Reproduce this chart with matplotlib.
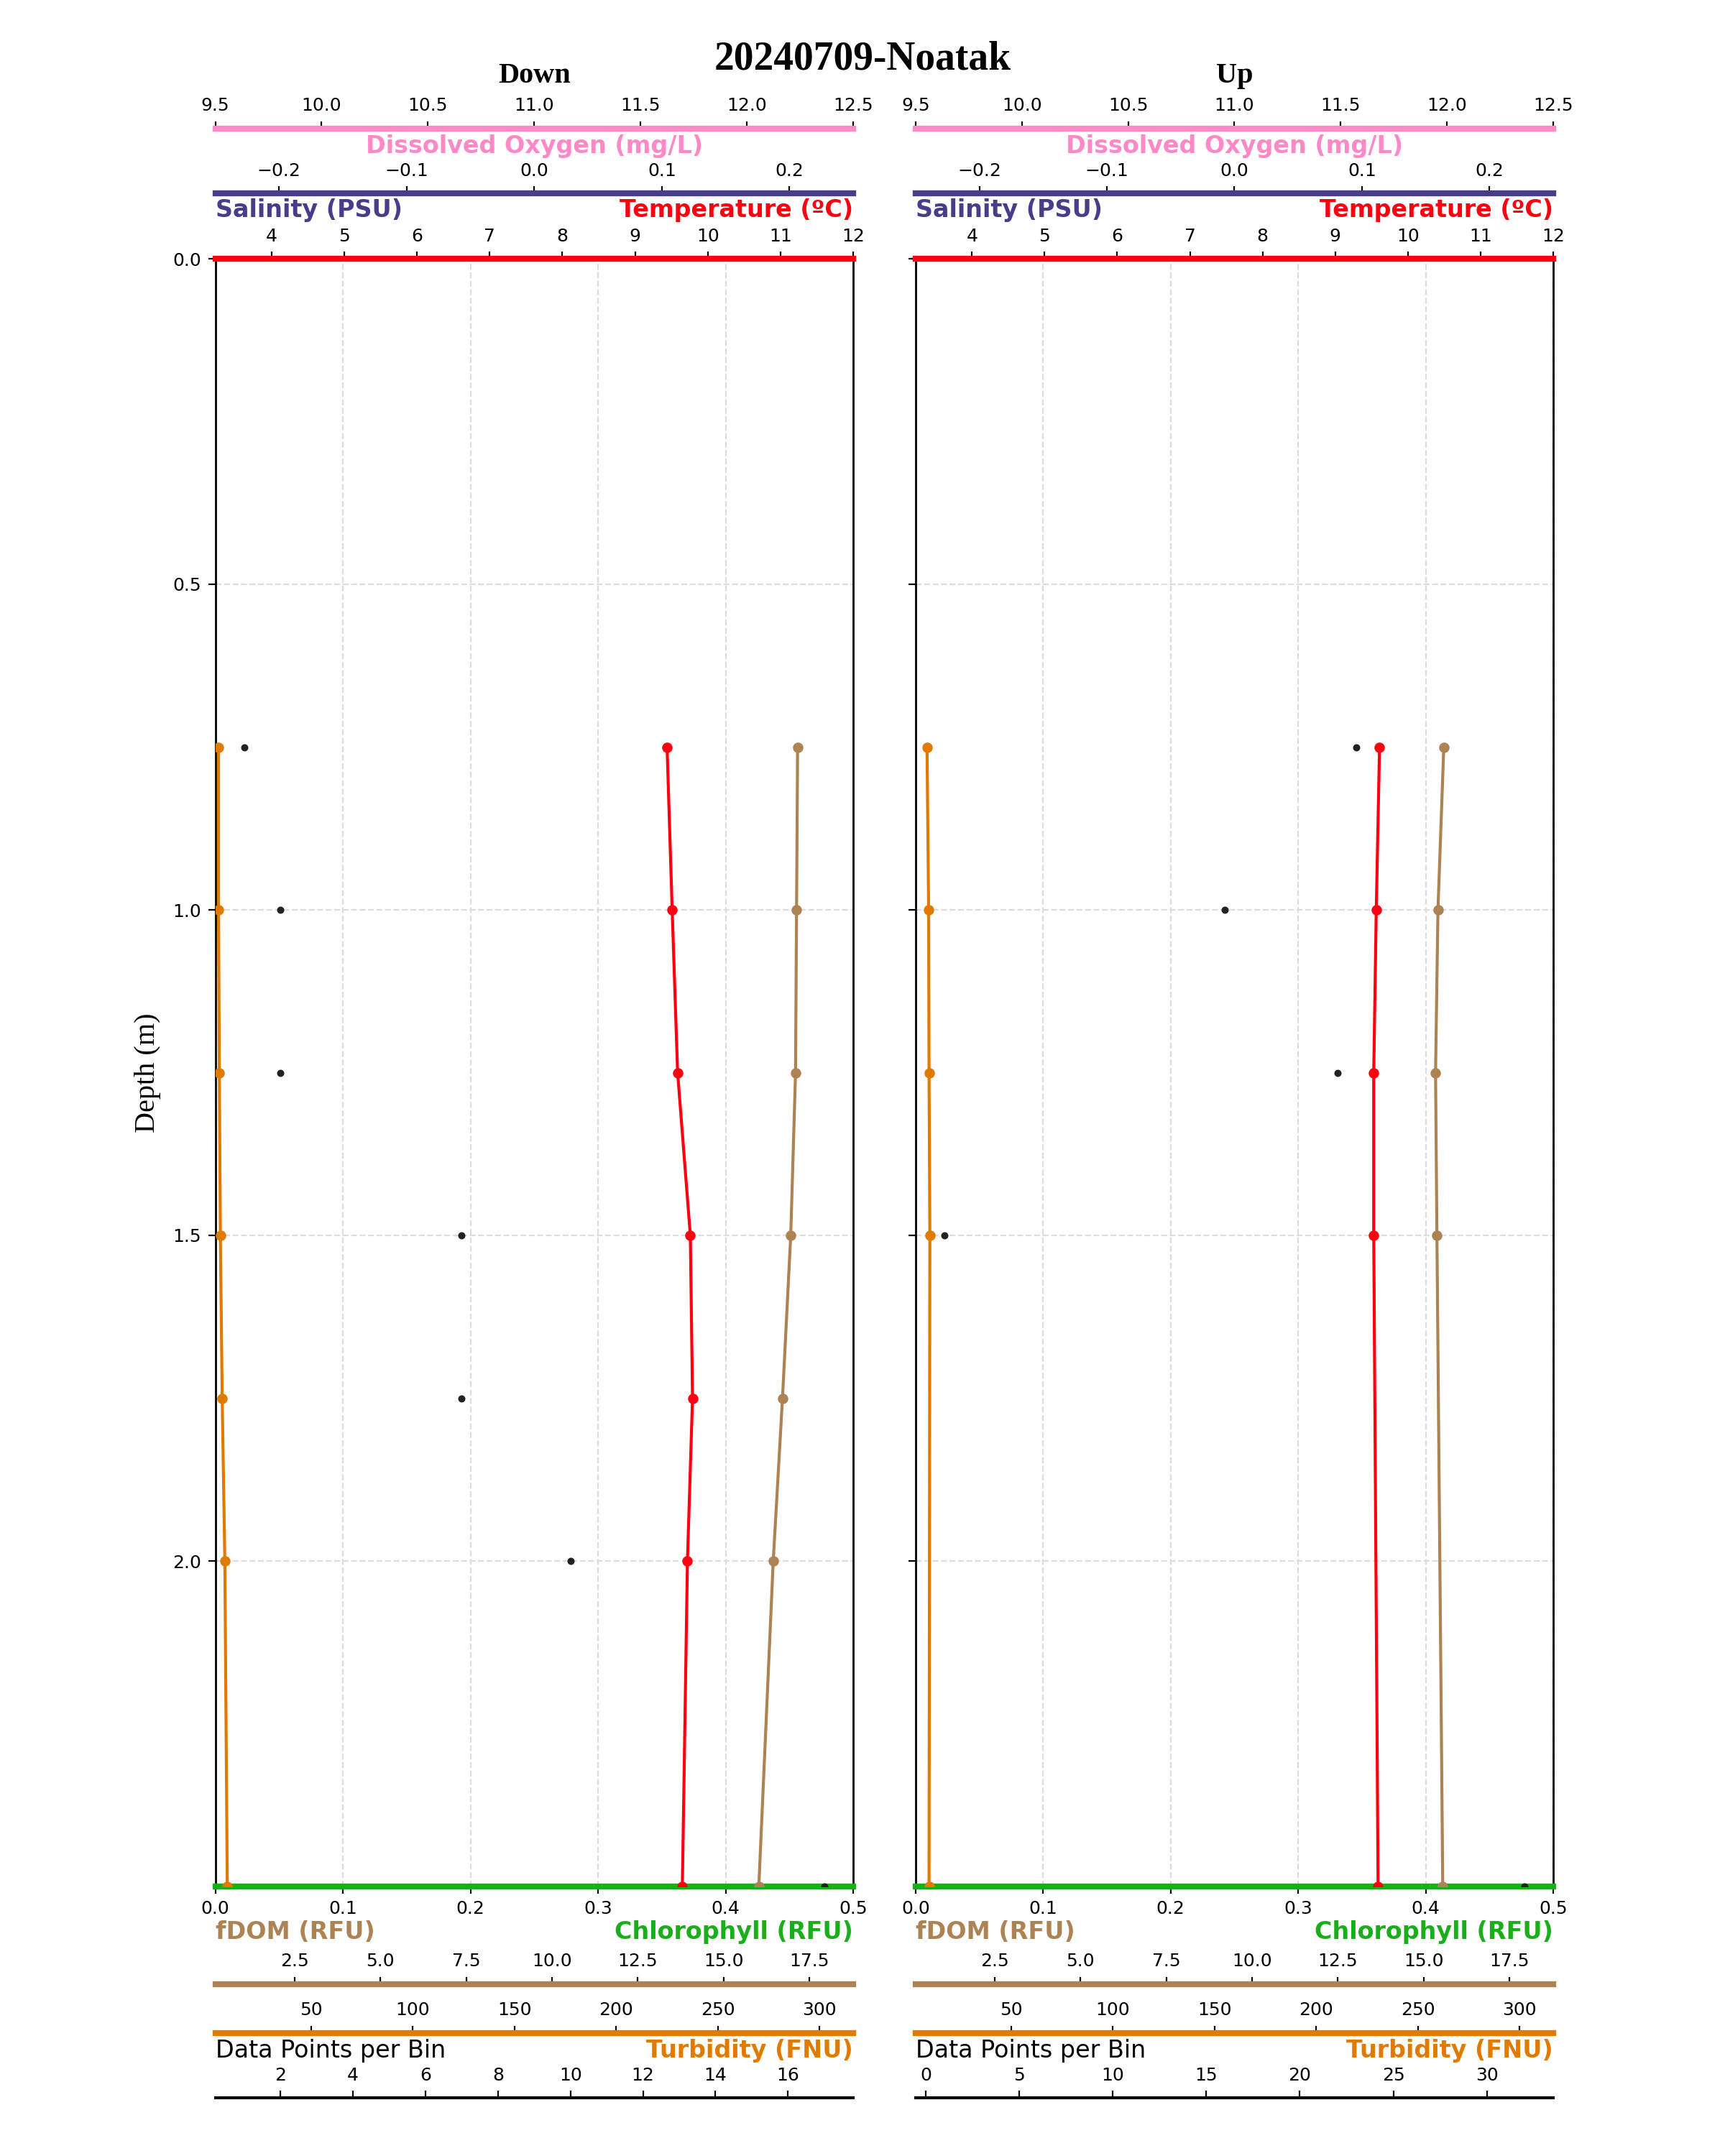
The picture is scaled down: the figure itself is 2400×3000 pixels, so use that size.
"""Down/Up cast profiles for one station, each on a stack of twinned x axes."""
import matplotlib
matplotlib.use("Agg")
import matplotlib.pyplot as plt

TITLE = "20240709-Noatak"
PANELS = ["Down", "Up"]

# down cast (bin depth in m)
down_depth = [0.75, 1.0, 1.25, 1.5, 1.75, 2.0, 2.5]
down_temp = [9.44, 9.51, 9.585, 9.76, 9.79, 9.72, 9.65]
down_fdom = [17.16, 17.13, 17.10, 16.96, 16.72, 16.45, 16.03]
down_turb = [4.6, 4.6, 5.0, 5.5, 6.4, 7.7, 8.9]
down_count = [1, 2, 2, 7, 7, 10, 17]

# up cast
up_depth = [0.75, 1.0, 1.25, 1.5, 2.5]
up_temp = [9.61, 9.565, 9.53, 9.53, 9.59]
up_fdom = [15.59, 15.42, 15.35, 15.39, 15.56]
up_turb = [8.6, 9.4, 9.6, 10.0, 9.6]
up_count = [23, 16, 22, 1, 32]

# axis ranges shared by both casts
TEMP_LIM = (3.225, 12.0)
SAL_LIM = (-0.25, 0.25)
DO_LIM = (9.5, 12.5)
CHL_LIM = (0.0, 0.5)
FDOM_LIM = (0.19, 18.78)
TURB_LIM = (3.0, 316.6)
DEPTH_TICKS = [0.0, 0.5, 1.0, 1.5, 2.0]

C_DO = "#ff88c6"
C_SAL = "#483d8b"
C_TEMP = "#ff0010"
C_CHL = "#1aaf1a"
C_FDOM = "#ad8354"
C_TURB = "#e07b00"
C_COUNT = "#222222"

TICK = 9
LAB = 12


def add_twin(ax, pos, color, lim=None, lw=3):
    tw = ax.twiny()
    for s in tw.spines.values():
        s.set_visible(False)
    sp = tw.spines["top"]
    sp.set_visible(True)
    sp.set_position(("axes", pos))
    sp.set_color(color)
    sp.set_linewidth(lw)
    if lim is not None:
        tw.set_xlim(lim)
    tw.tick_params(axis="x", labelsize=TICK)
    return tw


def label(ax, x, y, text, color, ha, bold=True):
    ax.text(x, y, text, transform=ax.transAxes, ha=ha, va="center",
            color=color, fontsize=LAB, fontweight="bold" if bold else "normal")


def draw_panel(ax, name, depth, temp, fdom, turb, count, show_ylabels):
    # main axis carries chlorophyll on the bottom spine
    ax.set_xlim(CHL_LIM)
    ax.spines["top"].set_visible(False)
    ax.spines["left"].set_linewidth(1.0)
    ax.spines["right"].set_linewidth(1.0)
    ax.spines["bottom"].set_color(C_CHL)
    ax.spines["bottom"].set_linewidth(3)
    ax.grid(True, ls="--", color="#dddddd", lw=0.8)
    ax.tick_params(labelsize=TICK, labelleft=show_ylabels)

    t_do = add_twin(ax, 1.08, C_DO, DO_LIM)
    t_sal = add_twin(ax, 1.04, C_SAL, SAL_LIM)
    t_temp = add_twin(ax, 1.0, C_TEMP, TEMP_LIM)
    t_fdom = add_twin(ax, -0.06, C_FDOM, FDOM_LIM)
    t_turb = add_twin(ax, -0.09, C_TURB, TURB_LIM)
    t_cnt = add_twin(ax, -0.13, "black", None, lw=1.5)

    t_turb.plot(turb, depth, "-o", color=C_TURB, lw=1.5, ms=4.2)
    t_fdom.plot(fdom, depth, "-o", color=C_FDOM, lw=1.5, ms=4.2)
    t_temp.plot(temp, depth, "-o", color=C_TEMP, lw=1.5, ms=4.2)
    t_cnt.plot(count, depth, "o", color=C_COUNT, ms=2.6)

    ax.set_ylim(2.5, 0)
    ax.set_yticks(DEPTH_TICKS)

    label(ax, 0.5, 1.069, "Dissolved Oxygen (mg/L)", C_DO, "center")
    label(ax, 0.0, 1.030, "Salinity (PSU)", C_SAL, "left")
    label(ax, 1.0, 1.030, "Temperature (ºC)", C_TEMP, "right")
    label(ax, 0.0, -0.028, "fDOM (RFU)", C_FDOM, "left")
    label(ax, 1.0, -0.028, "Chlorophyll (RFU)", C_CHL, "right")
    label(ax, 0.0, -0.101, "Data Points per Bin", "black", "left", bold=False)
    label(ax, 1.0, -0.101, "Turbidity (FNU)", C_TURB, "right")

    ax.text(0.5, 1.108, name, transform=ax.transAxes, ha="center", va="baseline",
            family="Liberation Serif", fontweight="bold", fontsize=14.5)


def main():
    fig = plt.figure(figsize=(12, 15), dpi=200)
    ax_d = fig.add_axes([0.1248, 0.125, 0.3698, 0.755])
    ax_u = fig.add_axes([0.5308, 0.125, 0.3696, 0.755])

    draw_panel(ax_d, PANELS[0], down_depth, down_temp, down_fdom, down_turb, down_count, True)
    draw_panel(ax_u, PANELS[1], up_depth, up_temp, up_fdom, up_turb, up_count, False)

    fig.text(0.0858, 0.5025, "Depth (m)", rotation=90, ha="center", va="center",
             family="Liberation Serif", fontsize=14.5)
    fig.text(0.5, 0.9725, TITLE, ha="center", va="center",
             family="Liberation Serif", fontweight="bold", fontsize=20)

    fig.savefig("out.png", dpi=200)
    plt.close(fig)


if __name__ == "__main__":
    main()
